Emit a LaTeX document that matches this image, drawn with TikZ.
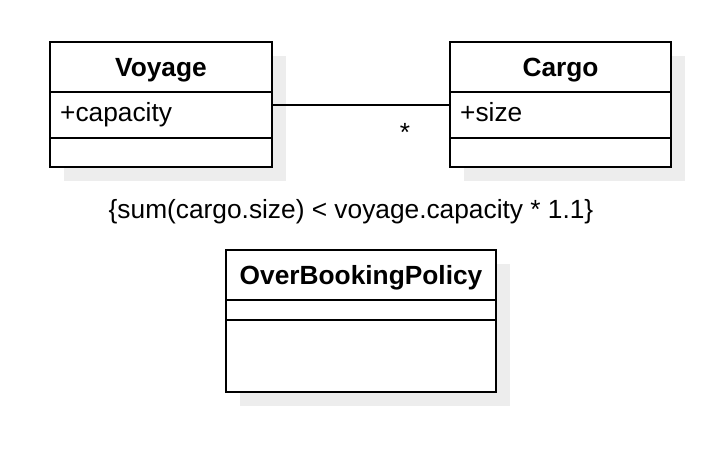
\documentclass[tikz,border=0pt]{standalone}
\usepackage{fontspec}
\setmainfont{Liberation Sans}
\begin{document}
\begin{tikzpicture}[x=1pt,y=-1pt,
  classbox/.style={draw=black,line width=2pt,fill=white,rectangle,inner sep=0pt},
  shadowbox/.style={fill=black!7,draw=none},
  title/.style={font=\fontsize{26.3}{30}\selectfont\bfseries,inner sep=0pt,anchor=base},
  attr/.style={font=\fontsize{26.3}{30}\selectfont,inner sep=0pt,anchor=base west},
  txt/.style={font=\fontsize{26.3}{30}\selectfont,inner sep=0pt,anchor=base}]
\useasboundingbox (0,0) rectangle (722,450);
% shadows
\fill[shadowbox] (64,56) rectangle (286,181);
\fill[shadowbox] (464,56) rectangle (685,181);
\fill[shadowbox] (240,264) rectangle (510,406);
% Voyage
\node[classbox,minimum width=222pt,minimum height=125pt] (voyage) at (161,104.5) {};
\draw[line width=2pt] (50,92) -- (272,92);
\draw[line width=2pt] (50,138) -- (272,138);
\node[title] (voyaget) at (161,76.5) {Voyage};
\node[attr] (voyagea) at (60,121.5) {+capacity};
% Cargo
\node[classbox,minimum width=221pt,minimum height=125pt] (cargo) at (560.5,104.5) {};
\draw[line width=2pt] (450,92) -- (671,92);
\draw[line width=2pt] (450,138) -- (671,138);
\node[title] (cargot) at (560.5,76) {Cargo};
\node[attr] (cargoa) at (460,121.5) {+size};
% association
\draw[line width=2pt] (voyage.east) -- (cargo.west);
\node[txt] (mult) at (405,141) {*};
% constraint
\node[txt] (constraint) at (351,218) {\{sum(cargo.size) < voyage.capacity * 1.1\}};
% OverBookingPolicy
\node[classbox,minimum width=270pt,minimum height=142pt] (policy) at (361,321) {};
\draw[line width=2pt] (226,300) -- (496,300);
\draw[line width=2pt] (226,319.5) -- (496,319.5);
\node[title] (policyt) at (361,284.5) {OverBookingPolicy};
\end{tikzpicture}
\end{document}
